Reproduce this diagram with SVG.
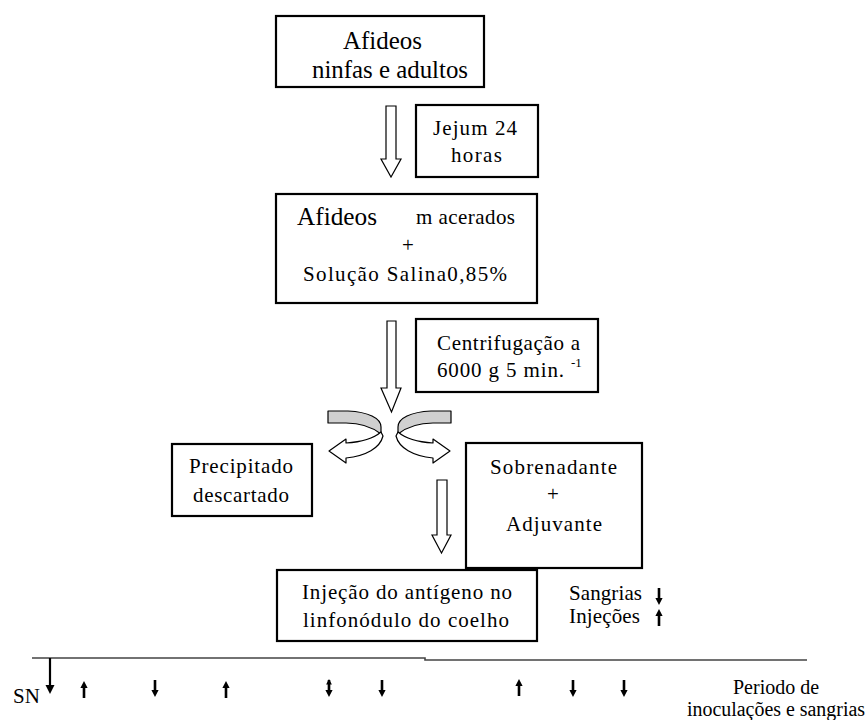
<svg xmlns="http://www.w3.org/2000/svg" xmlns:xlink="http://www.w3.org/1999/xlink" width="868" height="720" viewBox="0 0 868 720">
<style>
.box{fill:#fff;stroke:#000;stroke-width:2.2}
.t{font-family:"Liberation Serif","Times New Roman",serif;font-size:21px;fill:#000}
.tl{font-family:"Liberation Serif","Times New Roman",serif;font-size:25px;fill:#000}
.tp{font-family:"Liberation Serif","Times New Roman",serif;font-size:20px;fill:#000}
.hollow{fill:#fff;stroke:#000;stroke-width:1.2;stroke-linejoin:miter}
.curve{stroke:#000;stroke-width:1.2;stroke-linejoin:round}
.tick{fill:#000}
.axis{stroke:#444;stroke-width:1.6;fill:none}
</style>
<defs>
<path id="down" class="tick" d="M-1.3,-17 L1.3,-17 L1.3,-7 L3.6,-7 L0,0 L-3.6,-7 L-1.3,-7 Z"/>
<path id="up" class="tick" d="M-1.3,17 L1.3,17 L1.3,7 L3.6,7 L0,0 L-3.6,7 L-1.3,7 Z"/>
<g id="curvedArrow">
<path class="curve" fill="#d0d0d0" d="M328,411 L348,411 C368,412 381,418 381,427 L381,434 C372,427 360,423 346,423 L328,423 Z"/>
<path class="curve" fill="#fff" d="M381,432 C374,438 362,442 346,443 L346,439 L329,451 L346,463 L346,458 C366,456 380,448 383,436 Z"/>
</g>
</defs>

<g id="connectors">
<path class="hollow" d="M386,106 L396,106 L396,159 L401,159 L391,177 L381,159 L386,159 Z"/>
<path class="hollow" d="M387,321 L396,321 L396,388 L401,388 L391.5,412 L381,388 L387,388 Z"/>
<path class="hollow" d="M437,480 L447,480 L447,535 L451,535 L441.5,553 L432,535 L437,535 Z"/>
<use xlink:href="#curvedArrow"/>
<use xlink:href="#curvedArrow" transform="translate(779,0) scale(-1,1)"/>
</g>

<g id="n-afideos">
<rect class="box" x="276" y="16" width="208" height="71"/>
<text class="tl" x="343" y="49" textLength="79" lengthAdjust="spacingAndGlyphs">Afideos</text>
<text class="tl" x="312" y="78" textLength="156" lengthAdjust="spacingAndGlyphs">ninfas e adultos</text>
</g>

<g id="n-jejum">
<rect class="box" x="416" y="105" width="122" height="72"/>
<text class="t" x="433" y="135" textLength="84" lengthAdjust="spacing">Jejum 24</text>
<text class="t" x="451" y="162" textLength="51" lengthAdjust="spacing">horas</text>
</g>

<g id="n-macerados">
<rect class="box" x="276" y="194" width="261" height="109"/>
<text class="tl" x="297" y="225" textLength="80" lengthAdjust="spacingAndGlyphs">Afideos</text>
<text class="t" x="416" y="224" textLength="99" lengthAdjust="spacing">m acerados</text>
<text class="t" x="408" y="252" text-anchor="middle">+</text>
<text class="t" x="303" y="281" textLength="204" lengthAdjust="spacing">Solução Salina0,85%</text>
</g>

<g id="n-centrifugacao">
<rect class="box" x="416" y="319" width="182" height="73"/>
<text class="t" x="437" y="350" textLength="143" lengthAdjust="spacing">Centrifugação a</text>
<text class="t" x="437" y="377" textLength="127" lengthAdjust="spacing">6000 g 5 min.</text>
<text class="t" x="571" y="367" style="font-size:13px">-1</text>
</g>

<g id="n-precipitado">
<rect class="box" x="172" y="444" width="140" height="72"/>
<text class="t" x="189" y="473" textLength="104" lengthAdjust="spacing">Precipitado</text>
<text class="t" x="193" y="502" textLength="96" lengthAdjust="spacing">descartado</text>
</g>

<g id="n-sobrenadante">
<rect class="box" x="466" y="443" width="176" height="125"/>
<text class="t" x="490" y="474" textLength="127" lengthAdjust="spacing">Sobrenadante</text>
<text class="t" x="553" y="501" text-anchor="middle">+</text>
<text class="t" x="506" y="531" textLength="96" lengthAdjust="spacing">Adjuvante</text>
</g>

<g id="n-injecao">
<rect class="box" x="277" y="570" width="260" height="71"/>
<text class="t" x="302" y="599" textLength="210" lengthAdjust="spacing">Injeção do antígeno no</text>
<text class="t" x="303" y="627" textLength="206" lengthAdjust="spacing">linfonódulo do coelho</text>
</g>

<g id="legend">
<text class="t" x="569" y="600" textLength="73" lengthAdjust="spacing">Sangrias</text>
<text class="t" x="569" y="623" textLength="71" lengthAdjust="spacing">Injeções</text>
<use xlink:href="#down" transform="translate(659,605)"/>
<use xlink:href="#up" transform="translate(659,609)"/>
</g>

<g id="timeline">
<path class="axis" d="M32,658 L425,658 L425,660 L807,660"/>
<path d="M50,658 L50,686" stroke="#000" stroke-width="2.2"/>
<path d="M45.5,685 L54.5,685 L50,694 Z" fill="#000"/>
<text class="t" x="13" y="703" textLength="27" lengthAdjust="spacing">SN</text>
<use xlink:href="#up" transform="translate(84,681)"/>
<use xlink:href="#down" transform="translate(155,697)"/>
<use xlink:href="#up" transform="translate(226,681)"/>
<use xlink:href="#down" transform="translate(329,697)"/>
<use xlink:href="#up" transform="translate(329,679) scale(0.8)"/>
<use xlink:href="#down" transform="translate(382,697)"/>
<use xlink:href="#up" transform="translate(519,679)"/>
<use xlink:href="#down" transform="translate(573,697)"/>
<use xlink:href="#down" transform="translate(624,697)"/>
<text class="tp" x="733" y="694" textLength="86" lengthAdjust="spacingAndGlyphs">Periodo de</text>
<text class="tp" x="687" y="716" textLength="178" lengthAdjust="spacingAndGlyphs">inoculações e sangrias</text>
</g>
</svg>
